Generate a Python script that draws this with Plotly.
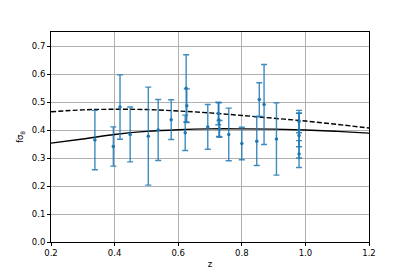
import plotly.graph_objects as go

# observed data
z_obs = [0.338, 0.396, 0.417, 0.449, 0.506, 0.537, 0.578, 0.625, 0.627, 0.622,
         0.693, 0.726, 0.728, 0.730, 0.759, 0.800, 0.847, 0.855, 0.870, 0.909,
         0.980, 0.980, 0.980, 0.980]
fs8_obs = [0.364, 0.341, 0.482, 0.384, 0.378, 0.400, 0.437, 0.549, 0.487, 0.390,
           0.411, 0.459, 0.437, 0.404, 0.384, 0.352, 0.360, 0.509, 0.491, 0.368,
           0.430, 0.400, 0.380, 0.314]
fs8_err = [0.106, 0.070, 0.115, 0.098, 0.175, 0.109, 0.071, 0.120, 0.060, 0.063,
           0.080, 0.040, 0.060, 0.030, 0.094, 0.058, 0.087, 0.060, 0.143, 0.129,
           0.040, 0.060, 0.080, 0.048]

# model curves
z_model = [0.2, 0.3, 0.4, 0.5, 0.6, 0.7, 0.8, 0.9, 1.0, 1.1, 1.2]
fs8_solid = [0.353, 0.368, 0.384, 0.395, 0.401, 0.404, 0.404, 0.403, 0.400, 0.395, 0.389]
fs8_dashed = [0.465, 0.472, 0.474, 0.473, 0.468, 0.461, 0.452, 0.442, 0.432, 0.420, 0.407]

x_ticks = [0.2, 0.4, 0.6, 0.8, 1.0, 1.2]
y_ticks = [0.0, 0.1, 0.2, 0.3, 0.4, 0.5, 0.6, 0.7]

fig = go.Figure()
fig.add_trace(go.Scatter(x=z_model, y=fs8_solid, mode="lines", line=dict(color="black", width=1.4, shape="spline"), showlegend=False))
fig.add_trace(go.Scatter(x=z_model, y=fs8_dashed, mode="lines", line=dict(color="black", width=1.4, dash="5px,2.2px", shape="spline"), showlegend=False))
fig.add_trace(go.Scatter(
    x=z_obs, y=fs8_obs, mode="markers",
    marker=dict(color="#1f77b4", size=3.5),
    error_y=dict(type="data", array=fs8_err, color="rgba(31,119,180,0.85)", thickness=1.4, width=3),
    showlegend=False))

font = dict(family="DejaVu Sans", size=8.5, color="black")
# page body has an 8px margin, so the figure is sized/offset to compensate
fig.update_layout(
    width=401, height=264,
    margin=dict(l=43, r=40, t=24, b=30),
    paper_bgcolor="white", plot_bgcolor="white",
    font=font,
)
fig.update_xaxes(range=[0.2, 1.2], tickvals=x_ticks, ticktext=[f"{v:.1f}" for v in x_ticks],
                 showgrid=True, gridcolor="#b0b0b0", gridwidth=0.7, automargin=False,
                 showline=True, linecolor="black", linewidth=0.8, mirror=True,
                 ticks="outside", ticklen=3, tickwidth=0.8, tickcolor="black",
                 zeroline=False, title=dict(text="z", standoff=3, font=font))
fig.update_yaxes(range=[0.0, 0.75], tickvals=y_ticks, ticktext=[f"{v:.1f}" for v in y_ticks],
                 showgrid=True, gridcolor="#b0b0b0", gridwidth=0.7, automargin=False,
                 showline=True, linecolor="black", linewidth=0.8, mirror=True,
                 ticks="outside", ticklen=3, tickwidth=0.8, tickcolor="black",
                 zeroline=False, title=dict(text="fσ<sub>8</sub>", standoff=6, font=font))

fig.write_html("out.html")
